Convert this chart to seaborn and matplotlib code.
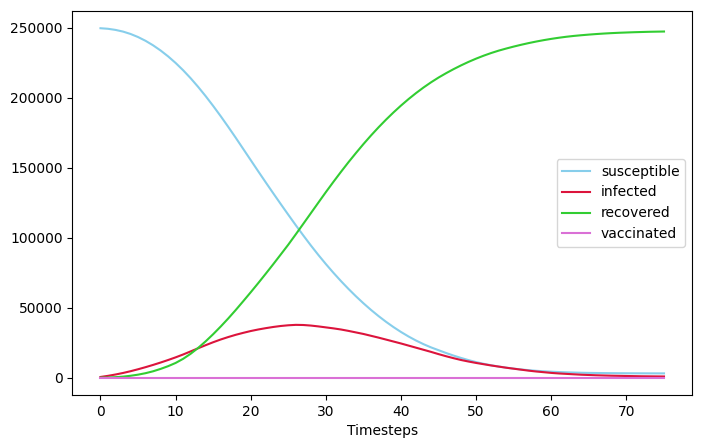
import matplotlib
matplotlib.use("Agg")
import matplotlib.pyplot as plt
import seaborn as sns

timesteps = list(range(76))

susceptible = [
    249500, 249100, 248300, 247100, 245400, 243200, 240500, 237300, 233600, 229400,
    224700, 219500, 213800, 207600, 201000, 194000, 186700, 179100, 171300, 163300,
    155300, 147300, 139400, 131600, 123900, 116300, 108800, 101500, 94400, 87600,
    81100, 74900, 69000, 63400, 58100, 53100, 48400, 44000, 39900, 36100,
    32600, 29400, 26500, 23900, 21600, 19600, 17600, 15750, 14050, 12500,
    11100, 9900, 8850, 7950, 7150, 6450, 5850, 5350, 4900, 4550,
    4250, 4000, 3800, 3650, 3500, 3400, 3330, 3270, 3220, 3180,
    3150, 3120, 3100, 3080, 3070, 3060,
]

infected = [
    500, 1300, 2250, 3350, 4600, 6000, 7500, 9100, 10800, 12600,
    14500, 16550, 18750, 21000, 23200, 25300, 27250, 29000, 30600, 32000,
    33300, 34400, 35350, 36200, 36900, 37400, 37700, 37600, 37200, 36600,
    35900, 35200, 34400, 33400, 32300, 31200, 29900, 28600, 27200, 25800,
    24400, 22900, 21400, 19900, 18400, 16800, 15300, 13900, 12600, 11500,
    10500, 9600, 8700, 7900, 7100, 6400, 5700, 5000, 4400, 3900,
    3400, 3000, 2700, 2400, 2100, 1900, 1700, 1550, 1400, 1300,
    1200, 1100, 1000, 950, 900, 850,
]

recovered = [
    0, 100, 350, 750, 1350, 2150, 3200, 4550, 6250, 8200,
    10500, 13450, 17050, 21250, 25950, 31050, 36500, 42250, 48300, 54600,
    61000, 67550, 74250, 81050, 88000, 95000, 102400, 109900, 117450, 125000,
    132500, 139800, 146900, 153800, 160400, 166800, 172900, 178700, 184200, 189400,
    194300, 198900, 203200, 207200, 210900, 214300, 217400, 220300, 223000, 225500,
    227800, 229900, 231800, 233500, 235000, 236400, 237700, 238900, 240000, 241000,
    241900, 242700, 243400, 244000, 244500, 244950, 245350, 245700, 246000, 246250,
    246450, 246650, 246800, 246950, 247050, 247150,
]

vaccinated = [0] * 76

series_names = ["susceptible", "infected", "recovered", "vaccinated"]
series_colors = ["skyblue", "crimson", "limegreen", "orchid"]

fig = plt.figure(figsize=(7.02, 4.48), dpi=100)
ax = fig.add_axes([0.103, 0.118, 0.883, 0.858])

for name, values, color in zip(series_names,
                               [susceptible, infected, recovered, vaccinated],
                               series_colors):
    sns.lineplot(x=timesteps, y=values, label=name, color=color, ax=ax,
                 linewidth=1.5)

ax.set_xlabel("Timesteps")
ax.set_ylabel("")
ax.legend(loc="center right")

fig.savefig("out.png", dpi=100)
